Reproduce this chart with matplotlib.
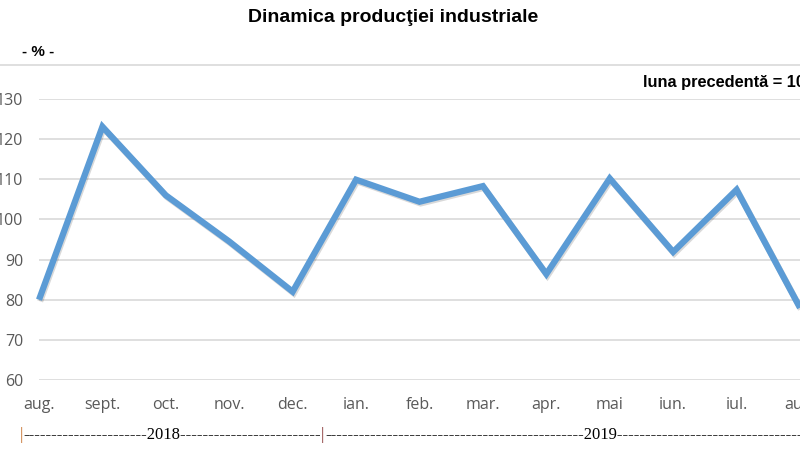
import matplotlib
matplotlib.use("Agg")
import matplotlib.pyplot as plt
import matplotlib.patheffects as pe
from matplotlib.lines import Line2D

# industrial production dynamics, previous month = 100
months = ["aug.", "sept.", "oct.", "nov.", "dec.", "ian.", "feb.", "mar.",
          "apr.", "mai", "iun.", "iul.", "aug."]
values = [80.0, 123.1, 106.0, 94.5, 82.0, 109.9, 104.4, 108.3,
          86.4, 110.2, 91.9, 107.4, 78.0]
y_ticks = [60, 70, 80, 90, 100, 110, 120, 130]

blue = "#5B9BD5"
grid_gray = "#D9D9D9"
label_gray = "#595959"

fig = plt.figure(figsize=(8, 4.65), dpi=100)
ax = fig.add_axes([39 / 800, 1 - 380 / 465, 761 / 800, 281 / 465])

x = list(range(len(months)))
ax.plot(x, values, color=blue, linewidth=4.5, solid_joinstyle="miter",
        solid_capstyle="butt", clip_on=False,
        path_effects=[pe.SimpleLineShadow(offset=(0.8, -1.2), shadow_color="black", alpha=0.15),
                      pe.Normal()])

ax.set_xlim(0, len(months) - 1)
ax.set_ylim(60, 130)
ax.set_yticks(y_ticks)
ax.set_xticks(x)
ax.set_xticklabels(months)
ax.grid(True, axis="y", color=grid_gray, linewidth=1.2)
ax.set_axisbelow(True)
for spine in ax.spines.values():
    spine.set_visible(False)
ax.tick_params(axis="both", length=0, labelcolor=label_gray, labelsize=11.5)
ax.tick_params(axis="y", pad=11.5)
ax.tick_params(axis="x", pad=12)
for lab in ax.get_xticklabels() + ax.get_yticklabels():
    lab.set_fontfamily("Open Sans")

# top frame line
fig.add_artist(Line2D([0, 1], [1 - 65 / 465, 1 - 65 / 465], color=grid_gray, linewidth=1.2))

fig.text(393 / 800, 1 - 18 / 465, "Dinamica producţiei industriale", ha="center", va="center",
         fontsize=14, fontweight="bold", family="Liberation Sans")
fig.text(22 / 800, 1 - 52 / 465, "- % -", ha="left", va="center",
         fontsize=11, fontweight="bold", family="Liberation Sans")
fig.text(643 / 800, 1 - 83 / 465, "luna precedentă = 100", ha="left", va="center",
         fontsize=11.8, fontweight="bold", family="Liberation Sans")

# year bracket line
yy = 1 - 435 / 465
serif = "Liberation Serif"
fig.text(21 / 800, yy, "|", ha="center", va="center", fontsize=12, color="#C87533", family=serif)
fig.text(322 / 800, yy, "|", ha="center", va="center", fontsize=12, color="#8B3A3A", family=serif)
fig.text(23 / 800, yy, "-" * 22 + "2018" + "-" * 25, ha="left", va="center",
         fontsize=12, family=serif)
fig.text(325 / 800, yy, "-" * 46 + "2019" + "-" * 36, ha="left", va="center",
         fontsize=12, family=serif)

fig.savefig("out.png", dpi=100)
